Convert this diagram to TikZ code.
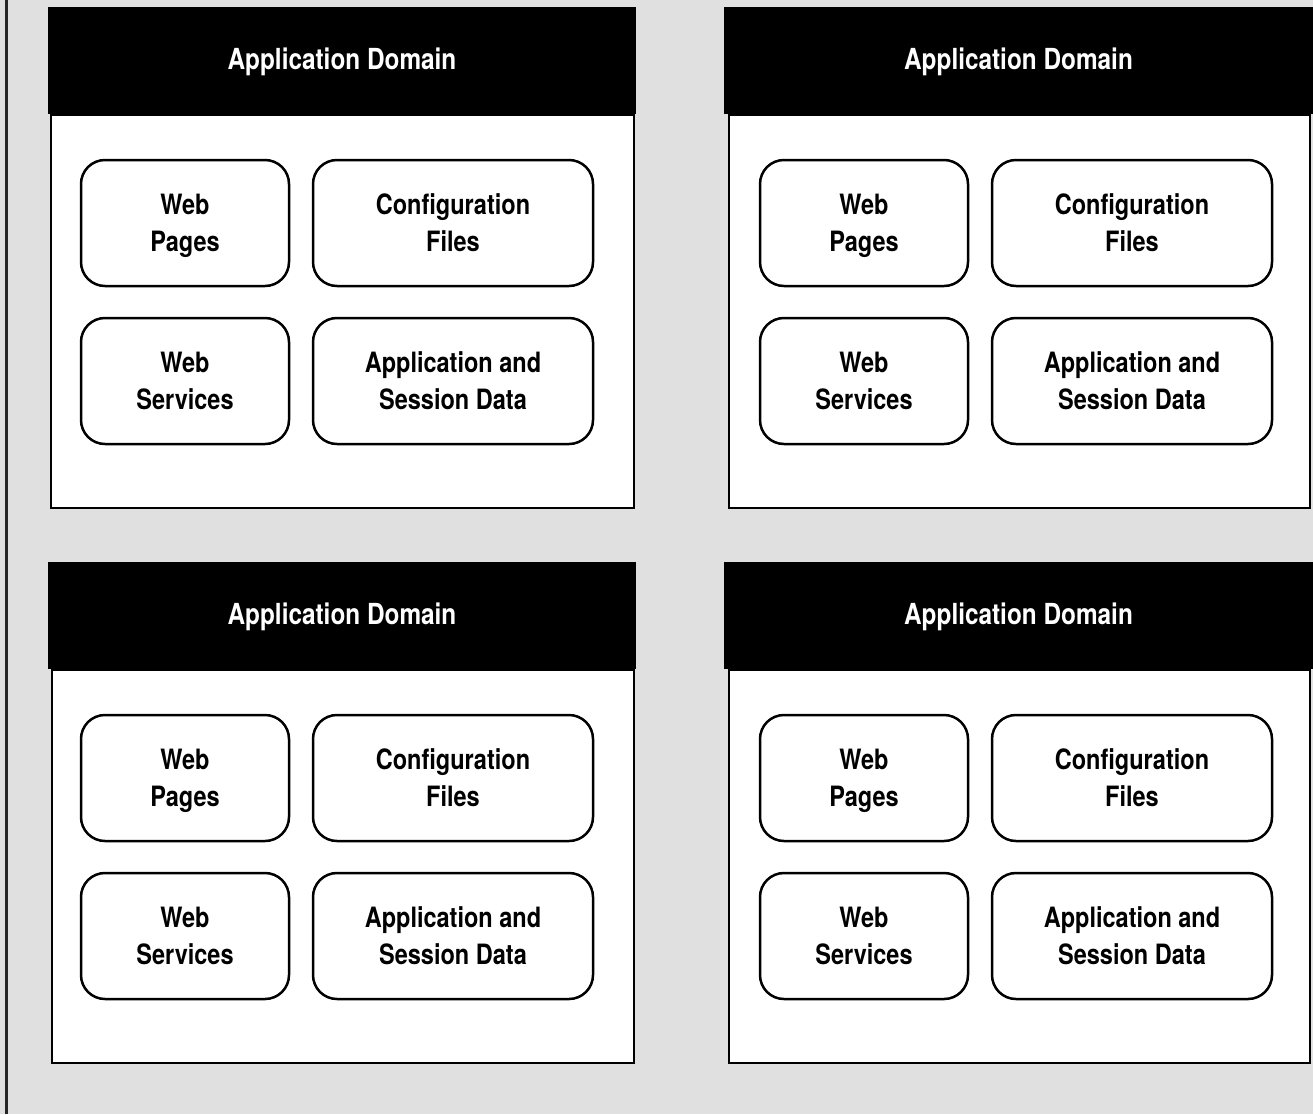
\documentclass[tikz,border=0pt]{standalone}
\usepackage{fontspec}
\setmainfont[FakeStretch=0.84]{TeX Gyre Heros}
\definecolor{bggray}{HTML}{E0E0E0}
\tikzset{
  domainbody/.style={draw=black, line width=2pt, fill=white},
  domainhead/.style={fill=black},
  titletext/.style={text=white, font=\fontsize{29}{32}\selectfont\bfseries},
  itembox/.style={draw=black, line width=2.5pt, rounded corners=24pt, fill=white,
    minimum height=126pt, inner sep=0pt},
  smallbox/.style={itembox, minimum width=208pt},
  largebox/.style={itembox, minimum width=280pt},
  itemtext/.style={align=center, inner sep=0pt, font=\fontsize{28}{37}\selectfont\bfseries},
}
\begin{document}
\begin{tikzpicture}[x=1pt, y=-1pt]
\useasboundingbox (0,0) rectangle (1313,1114);
\fill[bggray] (0,0) rectangle (1313,1114);
\draw[line width=2.5pt, black!85] (6.5,0) -- (6.5,1114);
\foreach \n/\dx/\dy/\bl/\br/\hl/\hr in {a/0/0/50/633/48/636, b/679/0/728/1309/724/1313, c/0/555/51/633/48/636, d/679/555/728/1309/724/1313} {
  \begin{scope}[yshift=-\dy pt]
    \node[domainbody, minimum width={(\br-\bl)*1pt}, minimum height=393pt, anchor=north west, inner sep=0pt] (body\n) at (\bl,114) {};
    \node[domainhead, minimum width={(\hr-\hl)*1pt}, minimum height=107pt, anchor=north west, inner sep=0pt] (head\n) at (\hl,7) {};
    \node[titletext] (title\n) at ({(\hl+\hr)/2}, 62) {Application Domain};
    \node[smallbox] (wp\n) at (185+\dx,223) {};
    \node[itemtext] (wptext\n) at ([yshift=-3pt]wp\n.center) {Web\\Pages};
    \node[largebox] (cf\n) at (453+\dx,223) {};
    \node[itemtext] (cftext\n) at ([yshift=-3pt]cf\n.center) {Configuration\\Files\vphantom{g}};
    \node[smallbox] (ws\n) at (185+\dx,381) {};
    \node[itemtext] (wstext\n) at ([yshift=-3pt]ws\n.center) {Web\\Services\vphantom{g}};
    \node[largebox] (as\n) at (453+\dx,381) {};
    \node[itemtext] (astext\n) at ([yshift=-3pt]as\n.center) {Application and\\Session Data\vphantom{g}};
  \end{scope}
}
\end{tikzpicture}
\end{document}
